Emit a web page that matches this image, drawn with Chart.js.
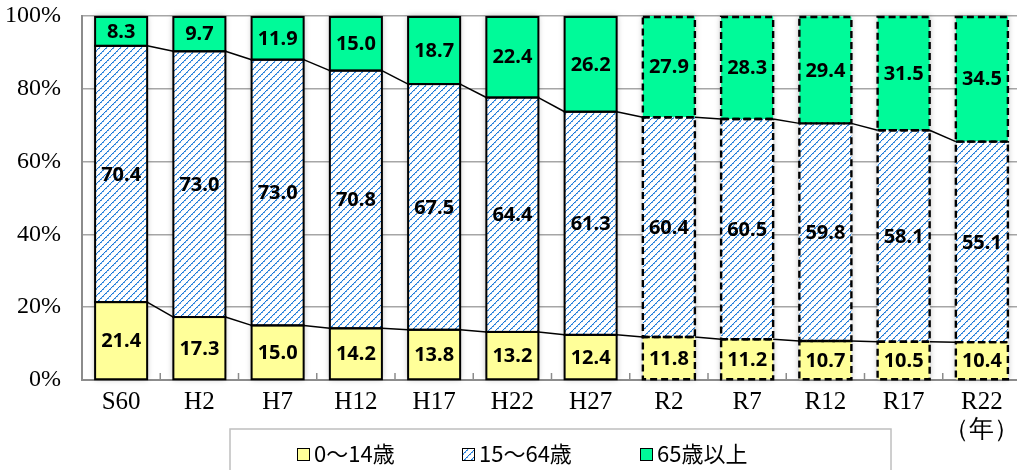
<!DOCTYPE html>
<html lang="ja">
<head>
<meta charset="utf-8">
<title>年齢3区分別人口構成比の推移</title>
<script src="https://cdn.jsdelivr.net/npm/chart.js@4/dist/chart.umd.min.js"></script>
<style>
  html, body { margin: 0; padding: 0; background: #fff; overflow: hidden; }
  #wrap { position: absolute; left: 0; top: 0; width: 1022px; height: 470px; }
</style>
</head>
<body>
<div id="wrap"><canvas id="chart" width="1022" height="470"></canvas></div>
<script>
// Census years and projection years
const categories = ['S60', 'H2', 'H7', 'H12', 'H17', 'H22', 'H27', 'R2', 'R7', 'R12', 'R17', 'R22'];
const yearUnit = '（年）';
// First projected year (bars from here on are outlined with dashes)
const firstProjected = 'R2';

// Share of population by age group (%)
const age0to14 = [21.4, 17.3, 15.0, 14.2, 13.8, 13.2, 12.4, 11.8, 11.2, 10.7, 10.5, 10.4];
const age15to64 = [70.4, 73.0, 73.0, 70.8, 67.5, 64.4, 61.3, 60.4, 60.5, 59.8, 58.1, 55.1];
const age65plus = [8.3, 9.7, 11.9, 15.0, 18.7, 22.4, 26.2, 27.9, 28.3, 29.4, 31.5, 34.5];

const seriesNames = ['0～14歳', '15～64歳', '65歳以上'];
const yTicks = [0, 20, 40, 60, 80, 100];

const YELLOW = '#ffff99';
const GREEN = '#00fa99';

// Diagonal hatch used for the working-age group
function makeHatch() {
  const n = 7;
  const c = document.createElement('canvas');
  c.width = n; c.height = n;
  const g = c.getContext('2d');
  g.fillStyle = '#ffffff';
  g.fillRect(0, 0, n, n);
  for (let i = 0; i < n; i++) {
    g.fillStyle = (i % 2 === 0) ? '#1470d2' : '#3d8fe0';
    g.fillRect(i, n - 1 - i, 1, 1);
    g.fillStyle = (i % 2 === 0) ? '#d6e8fa' : '#4d9be4';
    g.fillRect(i, (n - i) % n, 1, 1);
  }
  return g.createPattern(c, 'repeat');
}
const hatch = makeHatch();

const labels = categories.map((c, i) => i === categories.length - 1 ? [c, yearUnit] : c);
const projStart = categories.indexOf(firstProjected);

// Soft shadow behind each stacked column
const barShadow = {
  id: 'barShadow',
  beforeDatasetsDraw(chart) {
    const ctx = chart.ctx;
    const top = chart.getDatasetMeta(2).data;
    const bottom = chart.getDatasetMeta(0).data;
    ctx.save();
    ctx.shadowColor = 'rgba(0,0,0,0.28)';
    ctx.shadowBlur = 6;
    ctx.fillStyle = '#ffffff';
    top.forEach((el, i) => {
      const w = el.width;
      const y0 = Math.max(el.y, chart.chartArea.top);
      ctx.fillRect(el.x - w / 2, y0, w, bottom[i].base - y0);
    });
    ctx.restore();
  }
};

// Outlines, connecting lines and value labels
const barDecor = {
  id: 'barDecor',
  afterDatasetsDraw(chart) {
    const ctx = chart.ctx;
    const area = chart.chartArea;
    ctx.save();
    // segment outlines
    ctx.strokeStyle = '#000';
    chart.data.datasets.forEach((ds, d) => {
      chart.getDatasetMeta(d).data.forEach((el, i) => {
        const projected = i >= projStart;
        ctx.lineWidth = projected ? 2.4 : 2;
        ctx.setLineDash(projected ? [7, 4] : []);
        const y0 = Math.max(el.y, area.top + 1);
        ctx.strokeRect(el.x - el.width / 2, y0, el.width, el.base - y0);
      });
    });
    ctx.setLineDash([]);
    // connecting lines between columns
    ctx.lineWidth = 1.5;
    [0, 1].forEach(d => {
      const els = chart.getDatasetMeta(d).data;
      for (let i = 0; i < els.length - 1; i++) {
        const a = els[i], b = els[i + 1];
        ctx.beginPath();
        ctx.moveTo(a.x + a.width / 2, a.y);
        ctx.lineTo(b.x - b.width / 2, b.y);
        ctx.stroke();
      }
    });
    // value labels
    ctx.fillStyle = '#000';
    ctx.font = 'bold 20px "Noto Sans", "DejaVu Sans", sans-serif';
    ctx.textAlign = 'center';
    ctx.textBaseline = 'middle';
    chart.data.datasets.forEach((ds, d) => {
      chart.getDatasetMeta(d).data.forEach((el, i) => {
        const y0 = Math.max(el.y, area.top);
        ctx.fillText(ds.data[i].toFixed(1), el.x, (y0 + el.base) / 2 + 1);
      });
    });
    ctx.restore();
  },
  afterDraw(chart) {
    const ctx = chart.ctx;
    const area = chart.chartArea;
    const xs = chart.scales.x;
    ctx.save();
    // small inward ticks between categories
    ctx.strokeStyle = '#8c8c8c';
    ctx.lineWidth = 1.5;
    for (let i = 1; i < categories.length; i++) {
      const x = (xs.getPixelForValue(i - 1) + xs.getPixelForValue(i)) / 2;
      ctx.beginPath();
      ctx.moveTo(x, area.bottom);
      ctx.lineTo(x, area.bottom - 7);
      ctx.stroke();
    }
    // legend box
    ctx.strokeStyle = '#bfbfbf';
    ctx.lineWidth = 1.5;
    ctx.strokeRect(230, 429, 661, 60);
    const items = [
      { x: 297, fill: YELLOW, tx: 314 },
      { x: 462, fill: hatch, tx: 479 },
      { x: 640, fill: GREEN, tx: 657 }
    ];
    ctx.font = '22px "Noto Sans CJK JP", sans-serif';
    ctx.textAlign = 'left';
    ctx.textBaseline = 'middle';
    items.forEach((it, k) => {
      ctx.fillStyle = it.fill;
      ctx.fillRect(it.x, 448, 12, 12);
      ctx.strokeStyle = '#000';
      ctx.lineWidth = 1;
      ctx.strokeRect(it.x + 0.5, 448.5, 12, 12);
      ctx.fillStyle = '#000';
      ctx.fillText(seriesNames[k], it.tx, 454);
    });
    ctx.restore();
  }
};

new Chart(document.getElementById('chart'), {
  type: 'bar',
  data: {
    labels: labels,
    datasets: [
      { label: seriesNames[0], data: age0to14, backgroundColor: YELLOW },
      { label: seriesNames[1], data: age15to64, backgroundColor: hatch },
      { label: seriesNames[2], data: age65plus, backgroundColor: GREEN }
    ]
  },
  options: {
    responsive: false,
    animation: false,
    devicePixelRatio: 1,
    layout: { padding: { top: 16, right: 1, left: 0, bottom: 0 } },
    datasets: {
      bar: { borderWidth: 0, categoryPercentage: 0.665, barPercentage: 1 }
    },
    plugins: {
      legend: { display: false },
      tooltip: { enabled: false }
    },
    scales: {
      x: {
        stacked: true,
        grid: { display: false, drawTicks: false },
        border: { display: true, color: '#8c8c8c', width: 2 },
        ticks: {
          color: '#000',
          padding: 9,
          maxRotation: 0,
          autoSkip: false,
          font: { family: '"Liberation Serif", "Times New Roman", serif', size: 25, lineHeight: 1.1 }
        },
        afterFit(scale) { scale.height = 90; scale.paddingLeft = 0; scale.paddingRight = 0; }
      },
      y: {
        stacked: true,
        min: 0,
        max: 100,
        afterBuildTicks(scale) { scale.ticks = yTicks.map(v => ({ value: v })); },
        grid: { color: '#a6a6a6', lineWidth: 1.5, drawTicks: false },
        border: { display: true, color: '#8c8c8c', width: 2 },
        ticks: {
          color: '#000',
          padding: 21,
          font: { family: '"Liberation Serif", "Times New Roman", serif', size: 24 },
          callback: v => v + '%'
        },
        afterFit(scale) { scale.width = 82; scale.paddingTop = 0; scale.paddingBottom = 0; }
      }
    }
  },
  plugins: [barShadow, barDecor]
});
</script>
</body>
</html>
